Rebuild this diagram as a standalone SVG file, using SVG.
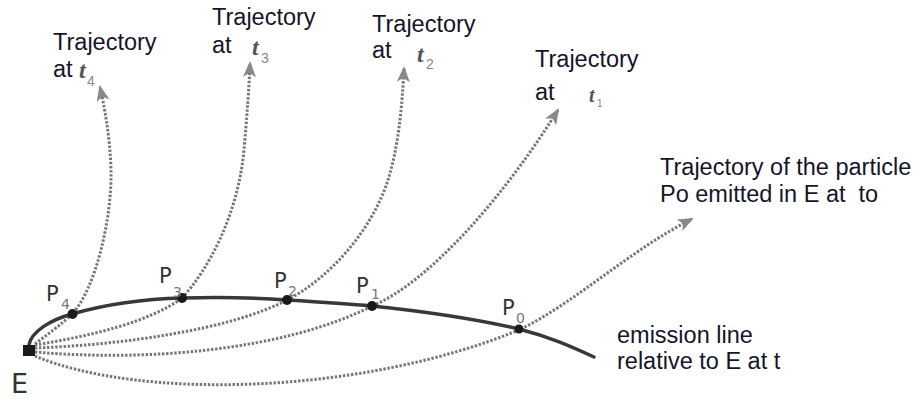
<svg xmlns="http://www.w3.org/2000/svg" width="920" height="401" viewBox="0 0 920 401">
<style>
.lbl{font-family:"Liberation Sans",Arial,sans-serif;font-size:23.5px;fill:#15152a}
.tt{font-family:"Liberation Serif","Times New Roman",serif;font-style:italic;font-weight:bold;font-size:24px;fill:#555}
.ts{font-family:"Liberation Sans",Arial,sans-serif;font-size:14px;fill:#888}
.pl{font-family:"DejaVu Sans","Liberation Sans",sans-serif;font-size:21px;fill:#333}
.ps{font-family:"DejaVu Sans","Liberation Sans",sans-serif;font-size:14px;fill:#777}
.traj{fill:none;stroke:#777;stroke-width:3;stroke-dasharray:2.4 1.7;marker-end:url(#ah)}
.emi{fill:none;stroke:#383838;stroke-width:3.4;stroke-linecap:round}
.pt{fill:#1a1a1a}
</style>
<defs>
<marker id="ah" markerUnits="userSpaceOnUse" markerWidth="18" markerHeight="14" refX="14" refY="6.5" orient="auto">
<path d="M0,0 L16,6.5 L0,13 L4,6.5 z" fill="#888"/>
</marker>
</defs>
<rect width="920" height="401" fill="#fff"/>
<g id="connectors">
<path id="traj-t4" class="traj" d="M35,344 C48,334 62,324 72,314 C95,290 112,220 111,170 C110,135 104,105 100,87"/>
<path id="traj-t3" class="traj" d="M35,345 C90,336 150,322 182,298 C208,270 238,215 244,150 C247,115 249,90 250,63"/>
<path id="traj-t2" class="traj" d="M35,348 C120,345 230,330 287,300 C330,278 372,230 388,180 C398,148 402,110 404,68"/>
<path id="traj-t1" class="traj" d="M35,352 C150,362 285,350 372,306 C430,282 505,195 558,110"/>
<path id="traj-t0" class="traj" d="M35,356 C140,400 360,395 519,330 C575,303 630,250 692,219"/>
</g>
<g id="emission-line">
<path class="emi" d="M29,345 C31,332 50,320 72,314 C100,306 140,299 182,298 C220,297 260,298 287,300 C320,302 350,304 372,306 C430,312 480,320 519,329 C550,337 570,346 594,357"/>
</g>
<g id="E">
<rect x="23" y="345" width="12" height="11" fill="#1a1a1a"/>
<text class="pl" x="11" y="393" style="font-size:27px">E</text>
</g>
<g id="P4"><circle class="pt" cx="72.5" cy="314" r="5"/><text class="pl" x="46" y="301">P</text><text class="ps" x="61" y="309">4</text></g>
<g id="P3"><circle class="pt" cx="182" cy="298" r="5"/><text class="pl" x="159" y="283">P</text><text class="ps" x="173" y="297">3</text></g>
<g id="P2"><circle class="pt" cx="287" cy="300" r="5"/><text class="pl" x="274" y="288">P</text><text class="ps" x="288" y="296">2</text></g>
<g id="P1"><circle class="pt" cx="372" cy="306" r="5"/><text class="pl" x="356" y="293">P</text><text class="ps" x="371" y="299">1</text></g>
<g id="P0"><circle class="pt" cx="519" cy="329" r="4.5"/><text class="pl" x="502" y="315">P</text><text class="ps" x="516" y="323">0</text></g>
<g id="label-t4"><text class="lbl" x="53" y="50">Trajectory</text><text class="lbl" x="53" y="77">at</text><text class="tt" x="79" y="78">t</text><text class="ts" x="87" y="86">4</text></g>
<g id="label-t3"><text class="lbl" x="212" y="25">Trajectory</text><text class="lbl" x="212" y="53">at</text><text class="tt" x="252" y="55">t</text><text class="ts" x="261" y="63">3</text></g>
<g id="label-t2"><text class="lbl" x="372" y="32">Trajectory</text><text class="lbl" x="372" y="58">at</text><text class="tt" x="417" y="62">t</text><text class="ts" x="426" y="69">2</text></g>
<g id="label-t1"><text class="lbl" x="535" y="67">Trajectory</text><text class="lbl" x="535" y="100">at</text><text class="tt" x="589" y="102" style="font-size:20px">t</text><text class="ts" x="597" y="107" style="font-size:10px">1</text></g>
<g id="label-t0"><text class="lbl" x="660" y="175">Trajectory of the particle</text><text class="lbl" x="660" y="202" xml:space="preserve">Po emitted in E at  to</text></g>
<g id="label-emission"><text class="lbl" x="617" y="343">emission line</text><text class="lbl" x="617" y="369">relative to E at t</text></g>
</svg>
